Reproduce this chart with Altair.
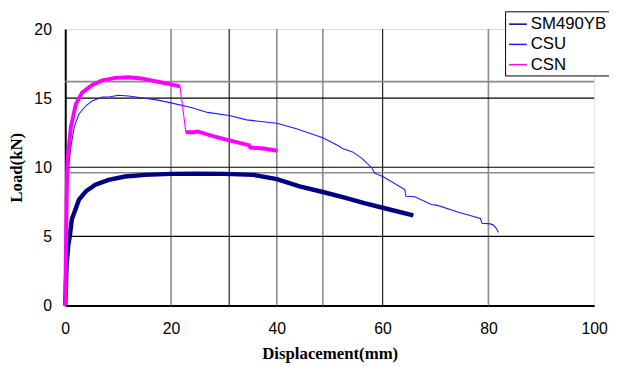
import altair as alt
import pandas as pd

series_names = ["SM490YB", "CSU", "CSN"]
series_colors = ["#000080", "#1a1aff", "#ff00ff"]

sm_x = [0, 0.12, 0.25, 0.56, 0.87, 1.25, 1.7, 2.6, 3.9, 5.7, 8.2, 11.3, 15.1, 20, 25, 30, 35.6, 40, 44.3, 48.7, 53, 56.7, 60, 65.8]
sm_y = [0, 1.47, 2.9, 4.33, 5.04, 6.24, 6.71, 7.66, 8.26, 8.74, 9.09, 9.33, 9.45, 9.52, 9.53, 9.52, 9.45, 9.14, 8.61, 8.21, 7.79, 7.38, 7.07, 6.52]

csu_x = [0, 0.2, 0.43, 0.7, 1.06, 1.7, 2.6, 3.9, 5.1, 7, 8.5, 10.1, 11.9, 15.1, 17.5, 20, 23.8, 26.9, 31, 34.3, 40, 43.7, 48.7, 51.8, 52.4, 54.3, 56.1, 58, 58.5, 60.2, 64.2, 64.4, 66.1, 69.2, 70.4, 74.2, 78.5, 78.8, 80.4, 81, 81.5, 81.9]
csu_y = [0, 4, 8.38, 10.2, 11.47, 12.9, 13.86, 14.45, 14.8, 15.09, 15.1, 15.21, 15.16, 15.0, 14.86, 14.66, 14.33, 13.97, 13.74, 13.43, 13.19, 12.78, 12.14, 11.52, 11.36, 11.11, 10.64, 9.93, 9.57, 9.29, 8.38, 7.9, 7.86, 7.31, 7.24, 6.76, 6.29, 5.95, 5.9, 5.8, 5.57, 5.28]

csn_x = [0, 0.1, 0.2, 0.3, 0.43, 1.06, 2.0, 3.2, 5.1, 7.0, 9.5, 11.9, 14.4, 17.5, 20, 21.7, 22.8, 24.4, 25, 28.1, 31, 34.7, 35, 37.5, 40.1]
csn_y = [0, 3, 6, 8.5, 10.5, 12.9, 14.57, 15.4, 15.95, 16.29, 16.47, 16.52, 16.43, 16.19, 16.0, 15.85, 12.54, 12.54, 12.59, 12.24, 11.95, 11.6, 11.43, 11.36, 11.19]
csn_break = 16  # index where the second (post-drop) part starts

grid_black_x = [31.0, 60]
grid_gray_x = [20, 40, 48.7, 80]
grid_black_y = [5, 10, 15]
grid_gray_y = [9.6, 16.2]

x_ticks = [0, 20, 40, 60, 80, 100]
y_ticks = [0, 5, 10, 15, 20]

rows = []
for name, xs, ys in [("SM490YB", sm_x, sm_y), ("CSU", csu_x, csu_y), ("CSN", csn_x, csn_y)]:
    for i, (xv, yv) in enumerate(zip(xs, ys)):
        seg = "b" if (name == "CSN" and i >= csn_break) else "a"
        rows.append({"series": name, "x": xv, "y": yv, "order": i, "seg": seg})
df = pd.DataFrame(rows)

xscale = alt.Scale(domain=[0, 100], nice=False, zero=False)
yscale = alt.Scale(domain=[0, 20], nice=False, zero=False)
cscale = alt.Scale(domain=series_names, range=series_colors)

xaxis = alt.Axis(values=x_ticks, grid=False, ticks=False, tickSize=0, labelPadding=15,
                 labelFontSize=16, labelFont="Liberation Sans", labelColor="black", labelFlush=False,
                 title="Displacement(mm)", titleFont="Liberation Serif", titleFontSize=17,
                 titleFontWeight="bold", titleColor="black", titleY=49, titleBaseline="middle",
                 domainColor="black", domainWidth=2)
yaxis = alt.Axis(values=y_ticks, grid=False, ticks=False, tickSize=0, labelPadding=14,
                 labelFontSize=16, labelFont="Liberation Sans", labelColor="black",
                 title="Load(kN)", titleFont="Liberation Serif", titleFontSize=17,
                 titleFontWeight="bold", titleColor="black", titleX=-49, titleY=140,
                 titleAngle=270, titleBaseline="middle", titleAlign="center",
                 domainColor="black", domainWidth=2)

gx_gray = alt.Chart(pd.DataFrame({"x": grid_gray_x})).mark_rule(color="#8a8a8a", strokeWidth=1.6).encode(
    x=alt.X("x:Q", scale=xscale, axis=xaxis))
gx_black = alt.Chart(pd.DataFrame({"x": grid_black_x})).mark_rule(color="#202020", strokeWidth=1.2).encode(
    x=alt.X("x:Q", scale=xscale))
gy_gray = alt.Chart(pd.DataFrame({"y": grid_gray_y})).mark_rule(color="#8a8a8a", strokeWidth=1.6).encode(
    y=alt.Y("y:Q", scale=yscale, axis=yaxis))
gy_black = alt.Chart(pd.DataFrame({"y": grid_black_y})).mark_rule(color="black", strokeWidth=1.2).encode(
    y=alt.Y("y:Q", scale=yscale))

legend = alt.Legend(orient="none", legendX=445.7, legendY=-18, title=None, symbolType="stroke",
                    symbolSize=324, symbolStrokeWidth=1.5, labelFontSize=17, labelFont="Liberation Sans",
                    labelColor="black", strokeColor="black", fillColor="white", padding=3,
                    rowPadding=2.5, labelOffset=3, cornerRadius=0)

thin = alt.Chart(df).mark_line(strokeWidth=1.1).encode(
    x=alt.X("x:Q", scale=xscale),
    y=alt.Y("y:Q", scale=yscale),
    color=alt.Color("series:N", scale=cscale, legend=legend, sort=series_names),
    order="order:Q",
)

thick_sm = alt.Chart(df).transform_filter(alt.datum.series == "SM490YB").mark_line(strokeWidth=4.5).encode(
    x=alt.X("x:Q", scale=xscale),
    y=alt.Y("y:Q", scale=yscale),
    color=alt.Color("series:N", scale=cscale, legend=None),
    order="order:Q",
)

thick_csn = alt.Chart(df).transform_filter(alt.datum.series == "CSN").mark_line(strokeWidth=4).encode(
    x=alt.X("x:Q", scale=xscale),
    y=alt.Y("y:Q", scale=yscale),
    color=alt.Color("series:N", scale=cscale, legend=None),
    detail="seg:N",
    order="order:Q",
)

chart = alt.layer(gx_gray, gx_black, gy_gray, gy_black, thin, thick_sm, thick_csn).properties(
    width=536, height=280,
    autosize=alt.AutoSizeParams(type="none"),
    padding={"left": 58, "top": 19, "right": 15, "bottom": 58},
).configure_view(stroke="black", strokeWidth=2).configure(background="white")

chart.save("out.html", embed_options={"renderer": "svg", "actions": False})
